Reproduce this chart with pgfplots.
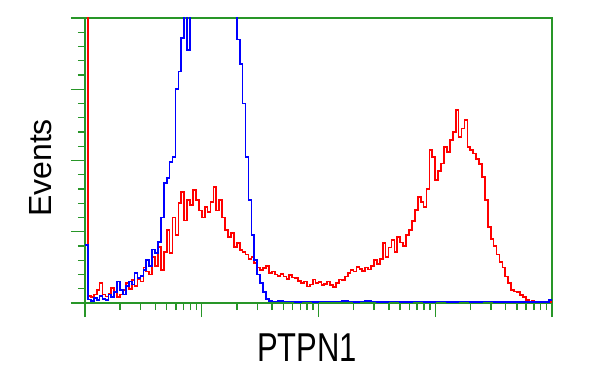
\documentclass[border=0pt]{standalone}
\usepackage{pgfplots}
\pgfplotsset{compat=1.18}
\usepackage{fontspec}
\setmainfont{Liberation Sans}
\definecolor{axgreen}{RGB}{40,150,40}
\definecolor{hblue}{RGB}{0,0,255}
\definecolor{hred}{RGB}{255,0,0}
\begin{document}
\begin{tikzpicture}
\path[use as bounding box] (0,0) rectangle (600bp,375bp);
\begin{axis}[
  at={(85bp,72bp)}, anchor=south west,
  width=467bp, height=285bp, scale only axis,
  xmin=0, xmax=4, ymin=0, ymax=4,
  axis line style={axgreen, line width=1.8pt},
  tick pos=left, tick align=outside,
  xtick={0,1,2,3,4},
  minor xtick={0.301,0.477,0.602,0.699,0.778,0.845,0.903,0.954,
               1.301,1.477,1.602,1.699,1.778,1.845,1.903,1.954,
               2.301,2.477,2.602,2.699,2.778,2.845,2.903,2.954,
               3.301,3.477,3.602,3.699,3.778,3.845,3.903,3.954},
  ytick={0,1,2,3,4},
  minor ytick={0.2,0.4,0.6,0.8,1.2,1.4,1.6,1.8,2.2,2.4,2.6,2.8,3.2,3.4,3.6,3.8},
  xticklabels={}, yticklabels={},
  major tick length=14bp, minor tick length=7bp,
  every tick/.style={axgreen, line width=1.5pt},
  clip=true,
]
\addplot[const plot, draw=hred, line width=1.7pt, line join=miter] table {
x y
0.000 5.00
0.025 0.10
0.050 0.08
0.075 0.12
0.100 0.18
0.125 0.28
0.150 0.12
0.175 0.09
0.200 0.13
0.225 0.21
0.250 0.15
0.275 0.08
0.300 0.12
0.325 0.18
0.350 0.28
0.375 0.20
0.400 0.32
0.425 0.24
0.450 0.34
0.475 0.30
0.500 0.50
0.525 0.44
0.550 0.40
0.575 0.65
0.600 0.52
0.625 0.79
0.650 0.46
0.675 0.72
0.700 1.02
0.725 0.70
0.750 1.20
0.775 0.95
0.800 1.40
0.825 1.56
0.850 1.16
0.875 1.45
0.900 1.38
0.925 1.59
0.950 1.45
0.975 1.30
1.000 1.20
1.025 1.35
1.050 1.28
1.075 1.42
1.100 1.63
1.125 1.30
1.150 1.45
1.175 1.20
1.200 1.02
1.225 0.93
1.250 0.98
1.275 0.79
1.300 0.84
1.325 0.74
1.350 0.72
1.375 0.68
1.400 0.62
1.425 0.65
1.450 0.56
1.475 0.50
1.500 0.46
1.525 0.49
1.550 0.52
1.575 0.42
1.600 0.44
1.625 0.40
1.650 0.38
1.675 0.41
1.700 0.37
1.725 0.34
1.750 0.39
1.775 0.36
1.800 0.35
1.825 0.31
1.850 0.28
1.875 0.30
1.900 0.23
1.925 0.26
1.950 0.33
1.975 0.28
2.000 0.29
2.025 0.25
2.050 0.27
2.075 0.30
2.100 0.25
2.125 0.22
2.150 0.28
2.175 0.33
2.200 0.32
2.225 0.37
2.250 0.42
2.275 0.46
2.300 0.44
2.325 0.51
2.350 0.48
2.375 0.45
2.400 0.50
2.425 0.47
2.450 0.52
2.475 0.60
2.500 0.55
2.525 0.62
2.550 0.84
2.575 0.65
2.600 0.78
2.625 0.88
2.650 0.72
2.675 0.93
2.700 0.85
2.725 0.80
2.750 0.95
2.775 1.02
2.800 1.15
2.825 1.31
2.850 1.49
2.875 1.42
2.900 1.35
2.925 1.60
2.950 2.15
2.975 2.05
3.000 1.73
3.025 1.85
3.050 1.96
3.075 2.19
3.100 2.12
3.125 2.29
3.150 2.40
3.175 2.71
3.200 2.33
3.225 2.45
3.250 2.57
3.275 2.19
3.300 2.15
3.325 2.10
3.350 2.02
3.375 1.95
3.400 1.77
3.425 1.45
3.450 1.07
3.475 0.90
3.500 0.80
3.525 0.68
3.550 0.58
3.575 0.50
3.600 0.37
3.625 0.28
3.650 0.18
3.675 0.16
3.700 0.15
3.725 0.11
3.750 0.08
3.775 0.04
3.800 0.02
3.825 0.03
3.850 0.01
3.900 0.02
3.950 0.01
4.000 0.01
};
\addplot[const plot, draw=hblue, line width=1.7pt, line join=miter] table {
x y
0.000 0.81
0.025 0.05
0.050 0.03
0.075 0.07
0.100 0.04
0.125 0.10
0.150 0.06
0.175 0.04
0.200 0.12
0.225 0.08
0.250 0.15
0.275 0.30
0.300 0.18
0.325 0.12
0.350 0.24
0.375 0.30
0.400 0.26
0.425 0.42
0.450 0.35
0.475 0.38
0.500 0.46
0.525 0.60
0.550 0.52
0.575 0.75
0.600 0.70
0.625 0.86
0.650 1.20
0.675 1.68
0.700 1.75
0.725 1.98
0.750 2.05
0.775 3.00
0.800 3.25
0.825 3.72
0.850 4.10
0.875 3.55
0.900 4.30
0.925 4.60
0.950 4.80
1.000 5.00
1.200 4.90
1.250 4.50
1.275 4.10
1.300 3.70
1.325 3.35
1.350 2.80
1.375 2.05
1.400 1.45
1.425 0.95
1.450 0.60
1.475 0.40
1.500 0.28
1.525 0.15
1.550 0.06
1.575 0.03
1.600 0.02
1.650 0.03
1.700 0.02
1.750 0.02
1.800 0.01
1.850 0.02
1.900 0.02
1.950 0.01
2.000 0.02
2.100 0.02
2.200 0.03
2.250 0.02
2.300 0.01
2.350 0.02
2.400 0.03
2.450 0.02
2.500 0.01
2.600 0.02
2.700 0.01
2.800 0.02
2.900 0.01
3.000 0.02
3.100 0.01
3.200 0.02
3.300 0.01
3.400 0.02
3.500 0.01
3.600 0.01
3.700 0.01
3.800 0.01
3.900 0.01
3.975 0.04
4.000 0.04
};
\end{axis}
\node[rotate=90, font=\fontsize{32bp}{36bp}\selectfont] at (41bp,207bp) {Events};
\node[yscale=1.3, font=\fontsize{31bp}{36bp}\selectfont] at (307bp,27bp) {PTPN1};
\end{tikzpicture}
\end{document}
